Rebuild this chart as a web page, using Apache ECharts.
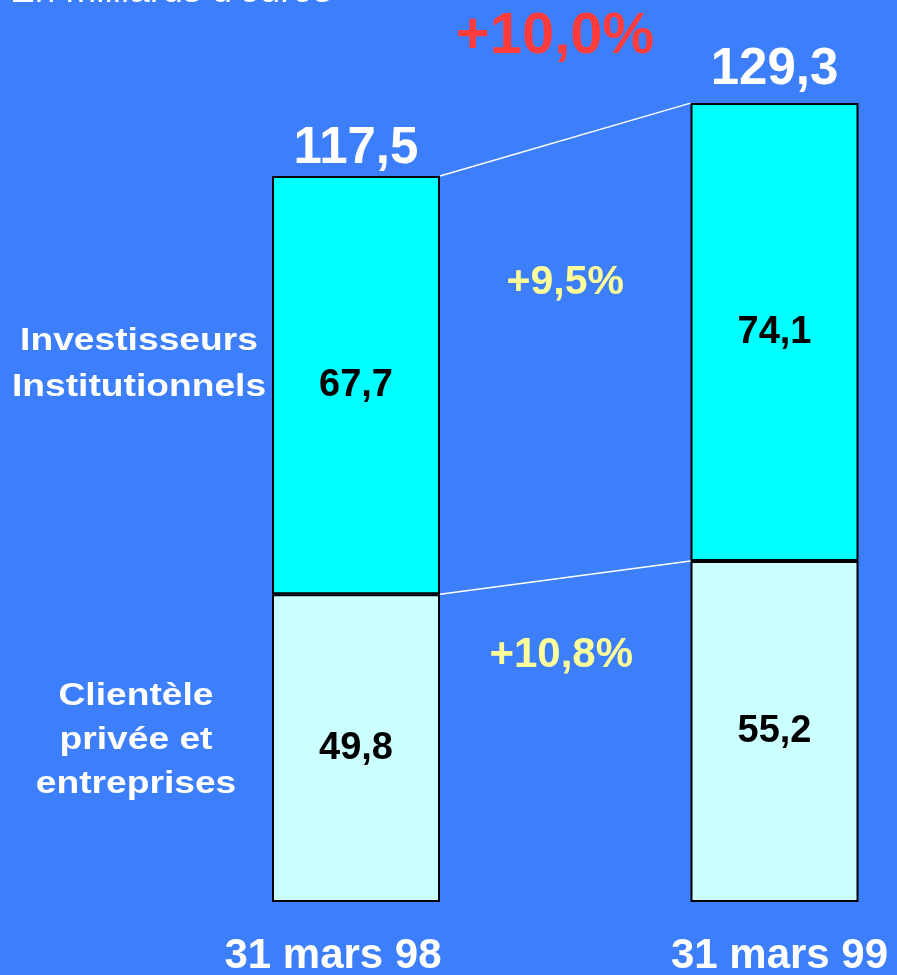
<!DOCTYPE html>
<html><head><meta charset="utf-8">
<script src="https://cdn.jsdelivr.net/npm/echarts@6/dist/echarts.min.js"></script>
<style>html,body{margin:0;padding:0;background:#3d7ffb}#c{width:897px;height:975px}</style>
</head><body><div id="c"></div>
<script>
const categories = ['31 mars 98', '31 mars 99'];
const seriesNames = ['Clientèle\nprivée et\nentreprises', 'Investisseurs\nInstitutionnels'];
const privateClients = [49.8, 55.2];
const institutional = [67.7, 74.1];
const totals = [117.5, 129.3];
const growthTotal = '+10,0%';
const growthInstitutional = '+9,5%';
const growthPrivate = '+10,8%';
const unitLabel = "En milliards d'euros";

const FONT = '"Liberation Sans", Arial, Helvetica, sans-serif';
const BW = 168;
const fmt = v => v.toFixed(1).replace('.', ',');
const totalLabelDistance = [2, 8];

const chart = echarts.init(document.getElementById('c'), null, {renderer: 'canvas'});
const option = {
  backgroundColor: '#3d7ffb',
  animation: false,
  grid: {left: 356, right: 122.5, top: 37, bottom: 73, containLabel: false, outerBoundsMode: 'none'},
  xAxis: {
    type: 'category', data: categories, boundaryGap: false,
    axisLine: {show: false}, axisTick: {show: false}, splitLine: {show: false},
    axisLabel: {
      margin: 33, showMinLabel: true, showMaxLabel: true, interval: 0, hideOverlap: false,
      formatter: (v, i) => (i === 0 ? '{a|' : '{b|') + v + '}',
      rich: {
        a: {color: '#fff', fontFamily: FONT, fontWeight: 'bold', fontSize: 42, padding: [0, 46, 0, 0]},
        b: {color: '#fff', fontFamily: FONT, fontWeight: 'bold', fontSize: 42, padding: [0, 0, 0, 10]}
      }
    }
  },
  yAxis: {type: 'value', min: 0, max: 140, show: false, splitLine: {show: false}},
  series: [
    {
      name: seriesNames[0], type: 'bar', stack: 's', barWidth: BW, data: privateClients, clip: false,
      itemStyle: {color: '#ccffff', borderColor: '#000', borderWidth: 2},
      label: {show: true, position: 'inside', formatter: p => fmt(p.value), color: '#000',
        fontFamily: FONT, fontWeight: 'bold', fontSize: 38}
    },
    {
      name: seriesNames[1], type: 'bar', stack: 's', barWidth: BW, data: institutional, clip: false,
      itemStyle: {color: '#00ffff', borderColor: '#000', borderWidth: 2},
      label: {show: true, position: 'inside', formatter: p => fmt(p.value), color: '#000',
        fontFamily: FONT, fontWeight: 'bold', fontSize: 38}
    },
    {
      name: 'total', type: 'bar', stack: 's', barWidth: BW, clip: false,
      data: totals.map((t, i) => ({value: 0, label: {distance: totalLabelDistance[i]}})),
      itemStyle: {color: 'transparent', borderWidth: 0},
      label: {show: true, position: 'top', formatter: p => fmt(totals[p.dataIndex]),
        color: '#fff', fontFamily: FONT, fontWeight: 'bold', fontSize: 51}
    }
  ]
};
chart.setOption(option);

const px = (i, v) => chart.convertToPixel({gridIndex: 0}, [i, v]);
const t0 = px(0, totals[0]), t1 = px(1, totals[1]);
const p0 = px(0, privateClients[0]), p1 = px(1, privateClients[1]);
const midX = (t0[0] + t1[0]) / 2;

function txt(x, y, text, fontSize, color, weight) {
  return {
    type: 'text', x: x, y: y, z: 100,
    style: {text: text, fill: color, font: weight + ' ' + fontSize + 'px ' + FONT,
      align: 'center', textAlign: 'center', verticalAlign: 'middle', textVerticalAlign: 'middle'}
  };
}

const graphics = [
  {type: 'line', z: 50, shape: {x1: t0[0] + BW / 2, y1: t0[1], x2: t1[0] - BW / 2, y2: t1[1]},
    style: {stroke: '#fff', lineWidth: 1.5}},
  {type: 'line', z: 50, shape: {x1: p0[0] + BW / 2, y1: p0[1], x2: p1[0] - BW / 2, y2: p1[1]},
    style: {stroke: '#fff', lineWidth: 1.5}},
  {type: 'text', x: 10, y: -8, z: 100,
    style: {text: unitLabel, fill: '#fff', font: 'normal 37px ' + FONT, align: 'left', textAlign: 'left',
      verticalAlign: 'middle', textVerticalAlign: 'middle'}},
  txt(555, 37, growthTotal, 58, '#ff3b3b', 'bold'),
  txt(midX, 283, growthInstitutional, 41, '#ffff99', 'bold'),
  txt(midX - 4, 655, growthPrivate, 42, '#ffff99', 'bold'),
  {type: 'text', x: 139, y: 364, z: 100, scaleX: 1.2,
    style: {text: seriesNames[1], fill: '#fff', font: 'bold 31px ' + FONT, lineHeight: 46,
      align: 'center', textAlign: 'center', verticalAlign: 'middle', textVerticalAlign: 'middle'}},
  {type: 'text', x: 136, y: 740, z: 100, scaleX: 1.2,
    style: {text: seriesNames[0], fill: '#fff', font: 'bold 31px ' + FONT, lineHeight: 44,
      align: 'center', textAlign: 'center', verticalAlign: 'middle', textVerticalAlign: 'middle'}}
];
chart.setOption({graphic: graphics});
</script>
</body></html>
